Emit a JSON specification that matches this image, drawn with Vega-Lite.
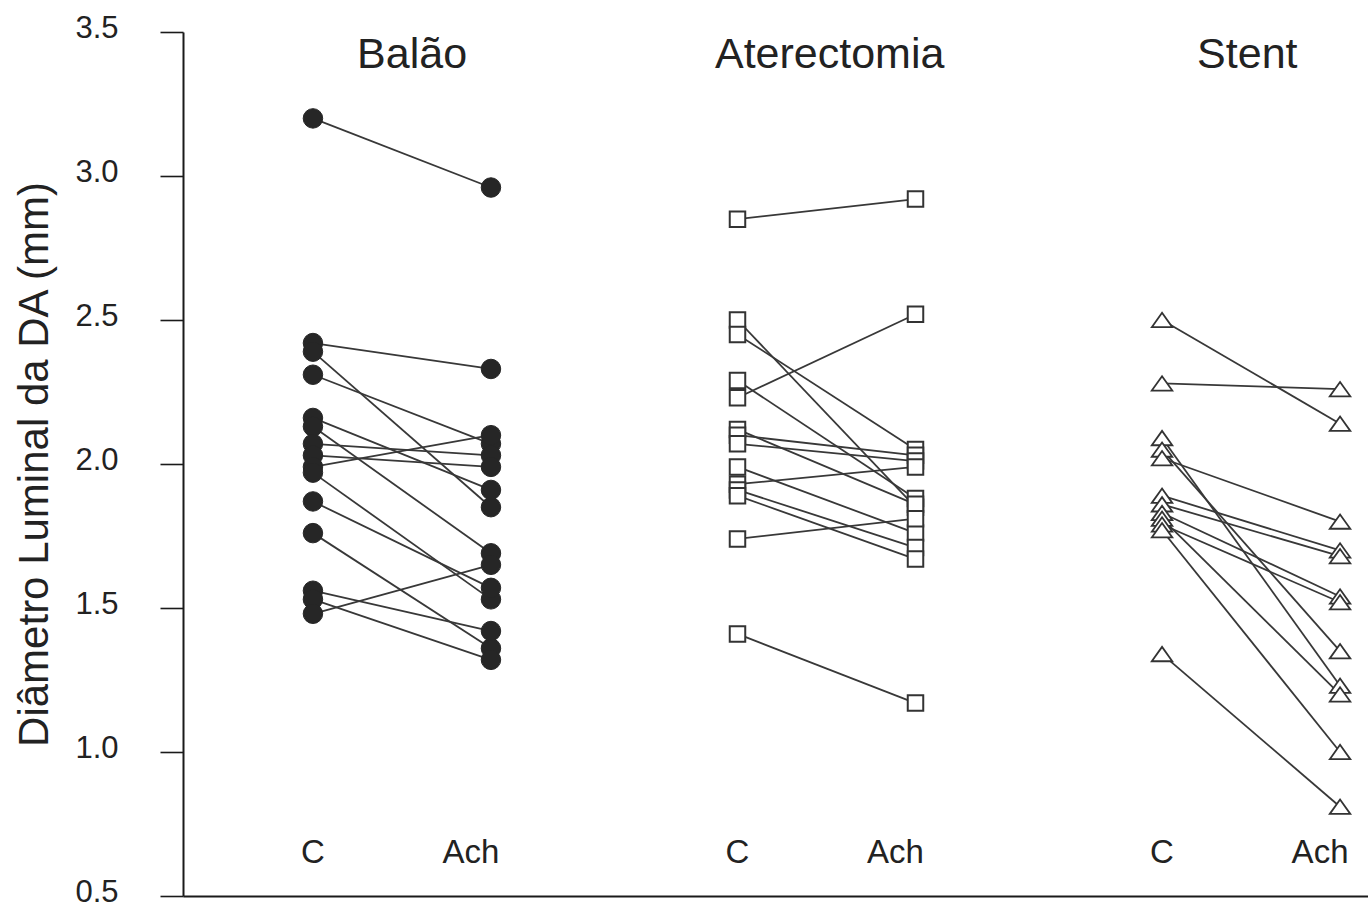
{
  "$schema": "https://vega.github.io/schema/vega-lite/v6.json",
  "width": 1185,
  "height": 864,
  "autosize": "none",
  "padding": {"left": 183, "top": 32, "right": 0, "bottom": 12},
  "background": "white",
  "config": {
    "font": "Liberation Sans",
    "view": {"stroke": null},
    "axis": {"grid": false}
  },
  "datasets": {
    "pairs": [
      {"g": "Balão", "c": 3.20, "ach": 2.96},
      {"g": "Balão", "c": 2.42, "ach": 2.33},
      {"g": "Balão", "c": 2.39, "ach": 1.85},
      {"g": "Balão", "c": 2.31, "ach": 2.07},
      {"g": "Balão", "c": 2.16, "ach": 1.91},
      {"g": "Balão", "c": 2.13, "ach": 1.69},
      {"g": "Balão", "c": 2.07, "ach": 2.03},
      {"g": "Balão", "c": 2.03, "ach": 1.99},
      {"g": "Balão", "c": 1.99, "ach": 2.10},
      {"g": "Balão", "c": 1.97, "ach": 1.53},
      {"g": "Balão", "c": 1.87, "ach": 1.57},
      {"g": "Balão", "c": 1.76, "ach": 1.36},
      {"g": "Balão", "c": 1.56, "ach": 1.42},
      {"g": "Balão", "c": 1.53, "ach": 1.32},
      {"g": "Balão", "c": 1.48, "ach": 1.65},
      {"g": "Aterectomia", "c": 2.85, "ach": 2.92},
      {"g": "Aterectomia", "c": 2.50, "ach": 1.85},
      {"g": "Aterectomia", "c": 2.45, "ach": 2.05},
      {"g": "Aterectomia", "c": 2.29, "ach": 1.88},
      {"g": "Aterectomia", "c": 2.23, "ach": 2.52},
      {"g": "Aterectomia", "c": 2.12, "ach": 1.86},
      {"g": "Aterectomia", "c": 2.10, "ach": 2.03},
      {"g": "Aterectomia", "c": 2.07, "ach": 2.01},
      {"g": "Aterectomia", "c": 1.99, "ach": 1.76},
      {"g": "Aterectomia", "c": 1.93, "ach": 1.99},
      {"g": "Aterectomia", "c": 1.91, "ach": 1.71},
      {"g": "Aterectomia", "c": 1.89, "ach": 1.67},
      {"g": "Aterectomia", "c": 1.74, "ach": 1.81},
      {"g": "Aterectomia", "c": 1.41, "ach": 1.17},
      {"g": "Stent", "c": 2.50, "ach": 2.14},
      {"g": "Stent", "c": 2.28, "ach": 2.26},
      {"g": "Stent", "c": 2.09, "ach": 1.23},
      {"g": "Stent", "c": 2.05, "ach": 1.35},
      {"g": "Stent", "c": 2.02, "ach": 1.80},
      {"g": "Stent", "c": 1.89, "ach": 1.70},
      {"g": "Stent", "c": 1.86, "ach": 1.68},
      {"g": "Stent", "c": 1.83, "ach": 1.54},
      {"g": "Stent", "c": 1.81, "ach": 1.20},
      {"g": "Stent", "c": 1.79, "ach": 1.52},
      {"g": "Stent", "c": 1.77, "ach": 1.00},
      {"g": "Stent", "c": 1.34, "ach": 0.81}
    ],
    "groups": [
      {"g": "Balão"},
      {"g": "Aterectomia"},
      {"g": "Stent"}
    ]
  },
  "layer": [
    {
      "data": {"name": "pairs"},
      "transform": [
        {"calculate": "datum.g === 'Balão' ? 0 : datum.g === 'Aterectomia' ? 1 : 2", "as": "gi"},
        {"calculate": "0.73 + 2.385 * datum.gi", "as": "xc"},
        {"calculate": "datum.xc + 1", "as": "xa"}
      ],
      "mark": {"type": "rule", "color": "#383838", "strokeWidth": 1.8},
      "encoding": {
        "x": {
          "field": "xc", "type": "quantitative",
          "scale": {"domain": [0, 6.657], "nice": false, "zero": false},
          "axis": {"domain": true, "domainColor": "#1a1a1a", "domainWidth": 2, "ticks": false, "labels": false, "title": null},
          "title": null
        },
        "x2": {"field": "xa"},
        "y": {
          "field": "c", "type": "quantitative",
          "scale": {"domain": [0.5, 3.5], "nice": false, "zero": false},
          "axis": {
            "values": [0.5, 1.0, 1.5, 2.0, 2.5, 3.0, 3.5],
            "format": ".1f",
            "domainColor": "#1a1a1a", "domainWidth": 2,
            "tickColor": "#1a1a1a", "tickWidth": 1.6, "tickSize": 23,
            "labelFont": "Liberation Sans", "labelFontSize": 31, "labelColor": "#222222",
            "labelPadding": 42, "labelOffset": -4,
            "title": "Diâmetro Luminal da DA (mm)",
            "titleFont": "Liberation Sans", "titleFontSize": 42, "titleFontWeight": "normal",
            "titleColor": "#222222", "titlePadding": 18
          },
          "title": "Diâmetro Luminal da DA (mm)"
        },
        "y2": {"field": "ach"}
      }
    },
    {
      "data": {"name": "pairs"},
      "transform": [
        {"filter": "datum.g === 'Balão'"},
        {"fold": ["c", "ach"], "as": ["t", "v"]},
        {"calculate": "0.73 + (datum.t === 'ach' ? 1 : 0)", "as": "x"}
      ],
      "mark": {"type": "point", "shape": "circle", "filled": true, "size": 380, "fill": "#262626", "stroke": "#262626", "strokeWidth": 1, "opacity": 1},
      "encoding": {
        "x": {"field": "x", "type": "quantitative"},
        "y": {"field": "v", "type": "quantitative"}
      }
    },
    {
      "data": {"name": "pairs"},
      "transform": [
        {"filter": "datum.g === 'Aterectomia'"},
        {"fold": ["c", "ach"], "as": ["t", "v"]},
        {"calculate": "0.73 + 2.385 + (datum.t === 'ach' ? 1 : 0)", "as": "x"}
      ],
      "mark": {"type": "point", "shape": "square", "filled": true, "size": 240, "fill": "white", "stroke": "#333333", "strokeWidth": 2, "opacity": 1},
      "encoding": {
        "x": {"field": "x", "type": "quantitative"},
        "y": {"field": "v", "type": "quantitative"}
      }
    },
    {
      "data": {"name": "pairs"},
      "transform": [
        {"filter": "datum.g === 'Stent'"},
        {"fold": ["c", "ach"], "as": ["t", "v"]},
        {"calculate": "0.73 + 2 * 2.385 + (datum.t === 'ach' ? 1 : 0)", "as": "x"}
      ],
      "mark": {"type": "point", "shape": "M-1,0.7L0,-0.7L1,0.7Z", "filled": true, "size": 420, "fill": "white", "stroke": "#333333", "strokeWidth": 1.8, "opacity": 1},
      "encoding": {
        "x": {"field": "x", "type": "quantitative"},
        "y": {"field": "v", "type": "quantitative"}
      }
    },
    {
      "data": {"name": "groups"},
      "transform": [
        {"calculate": "datum.g === 'Balão' ? 0 : datum.g === 'Aterectomia' ? 1 : 2", "as": "gi"},
        {"calculate": "0.73 + 2.385 * datum.gi", "as": "x"},
        {"calculate": "'C'", "as": "lab"}
      ],
      "mark": {"type": "text", "font": "Liberation Sans", "fontSize": 33, "color": "#222222", "align": "center", "baseline": "middle"},
      "encoding": {
        "x": {"field": "x", "type": "quantitative"},
        "y": {"datum": 0.649, "type": "quantitative"},
        "text": {"field": "lab"}
      }
    },
    {
      "data": {"name": "groups"},
      "transform": [
        {"calculate": "datum.g === 'Balão' ? 0 : datum.g === 'Aterectomia' ? 1 : 2", "as": "gi"},
        {"calculate": "0.73 + 2.385 * datum.gi + 1", "as": "x"},
        {"calculate": "'Ach'", "as": "lab"}
      ],
      "mark": {"type": "text", "font": "Liberation Sans", "fontSize": 33, "color": "#222222", "align": "center", "baseline": "middle", "dx": -20},
      "encoding": {
        "x": {"field": "x", "type": "quantitative"},
        "y": {"datum": 0.649, "type": "quantitative"},
        "text": {"field": "lab"}
      }
    },
    {
      "data": {"name": "groups"},
      "transform": [
        {"calculate": "datum.g === 'Balão' ? 0 : datum.g === 'Aterectomia' ? 1 : 2", "as": "gi"},
        {"calculate": "1.287 + 2.346 * datum.gi", "as": "x"}
      ],
      "mark": {"type": "text", "font": "Liberation Sans", "fontSize": 43, "color": "#222222", "align": "center", "baseline": "middle"},
      "encoding": {
        "x": {"field": "x", "type": "quantitative"},
        "y": {"datum": 3.42, "type": "quantitative"},
        "text": {"field": "g"}
      }
    }
  ]
}
